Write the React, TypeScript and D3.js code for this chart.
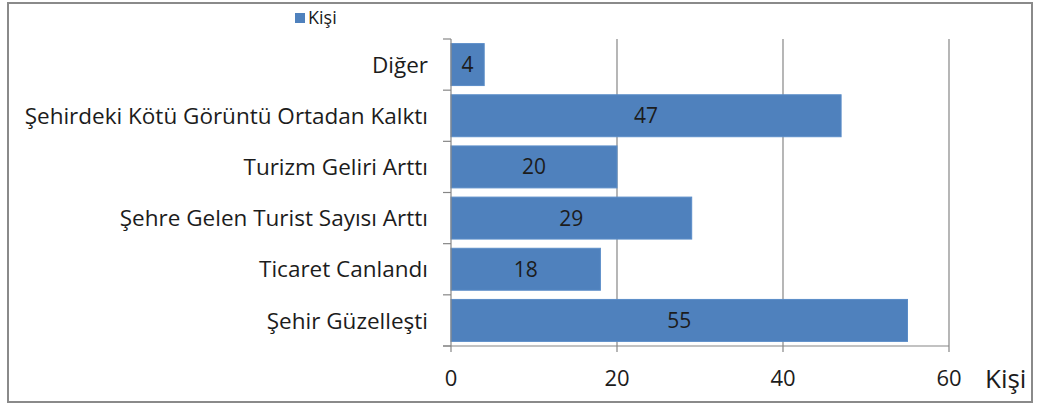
import * as d3 from 'd3';
import { useEffect, useRef } from 'react';

const categories = [
    'Diğer',
    'Şehirdeki Kötü Görüntü Ortadan Kalktı',
    'Turizm Geliri Arttı',
    'Şehre Gelen Turist Sayısı Arttı',
    'Ticaret Canlandı',
    'Şehir Güzelleşti',
];
const values = [4, 47, 20, 29, 18, 55];
const xTicks = [0, 20, 40, 60];
const seriesName = 'Kişi';

const WIDTH = 1038;
const HEIGHT = 406;
const FONT = "'Open Sans', 'Noto Sans', sans-serif";
const TEXT = '#1c1c1c';

function App() {
    const svgRef = useRef<SVGSVGElement>(null);

    useEffect(() => {
        if (!svgRef.current) return;
        const svg = d3.select(svgRef.current);
        svg.selectAll('*').remove();

        // outer frame
        svg.append('rect')
            .attr('x', 8).attr('y', 3)
            .attr('width', 1024).attr('height', 399)
            .attr('fill', '#fff')
            .attr('stroke', '#8a8a8a')
            .attr('stroke-width', 2);

        const top = 39;
        const bottom = 346;
        const x = d3.scaleLinear().domain([0, 60]).range([451, 949]);
        const y = d3.scaleBand<string>()
            .domain(categories)
            .range([top, bottom])
            .paddingInner(0.18)
            .paddingOuter(0.09);

        // gridlines
        svg.append('g')
            .selectAll('line')
            .data(xTicks.filter((t) => t > 0))
            .join('line')
            .attr('x1', (d) => x(d)).attr('x2', (d) => x(d))
            .attr('y1', top).attr('y2', bottom)
            .attr('stroke', '#868686')
            .attr('stroke-width', 1.2);

        // bars
        svg.append('g')
            .selectAll('rect')
            .data(values)
            .join('rect')
            .attr('x', x(0))
            .attr('y', (_, i) => y(categories[i])!)
            .attr('width', (d) => x(d) - x(0))
            .attr('height', y.bandwidth())
            .attr('fill', '#4f81bd')
            .attr('stroke', '#5b8dc8')
            .attr('stroke-width', 1);

        // value labels
        svg.append('g')
            .selectAll('text')
            .data(values)
            .join('text')
            .attr('x', (d) => (x(d) + x(0)) / 2)
            .attr('y', (_, i) => y(categories[i])! + y.bandwidth() / 2)
            .attr('dy', '0.36em')
            .attr('text-anchor', 'middle')
            .attr('font-family', FONT)
            .attr('font-size', 21)
            .attr('fill', TEXT)
            .text((d) => d);

        // y axis line + ticks between categories
        const yAxis = svg.append('g').attr('stroke', '#868686').attr('stroke-width', 1.2);
        yAxis.append('line')
            .attr('x1', x(0)).attr('x2', x(0))
            .attr('y1', top).attr('y2', bottom);
        const bounds = d3.range(categories.length + 1).map((i) => top + i * ((bottom - top) / categories.length));
        yAxis.selectAll('line.tick')
            .data(bounds)
            .join('line')
            .attr('class', 'tick')
            .attr('x1', x(0) - 8).attr('x2', x(0))
            .attr('y1', (d) => d).attr('y2', (d) => d);

        // x axis line + ticks
        const xAxis = svg.append('g').attr('stroke', '#868686').attr('stroke-width', 1.2);
        xAxis.append('line')
            .attr('x1', x(0) - 8).attr('x2', x(60))
            .attr('y1', bottom).attr('y2', bottom);
        xAxis.selectAll('line.tick')
            .data(xTicks)
            .join('line')
            .attr('class', 'tick')
            .attr('x1', (d) => x(d)).attr('x2', (d) => x(d))
            .attr('y1', bottom).attr('y2', bottom + 6);

        // x tick labels
        svg.append('g')
            .selectAll('text')
            .data(xTicks)
            .join('text')
            .attr('x', (d) => x(d))
            .attr('y', 378)
            .attr('dy', '0.36em')
            .attr('text-anchor', 'middle')
            .attr('font-family', FONT)
            .attr('font-size', 22)
            .attr('fill', TEXT)
            .text((d) => d);

        // category labels
        svg.append('g')
            .selectAll('text')
            .data(categories)
            .join('text')
            .attr('x', 428)
            .attr('y', (d) => y(d)! + y.bandwidth() / 2)
            .attr('dy', '0.36em')
            .attr('text-anchor', 'end')
            .attr('font-family', FONT)
            .attr('font-size', 22.5)
            .attr('fill', TEXT)
            .text((d) => d);

        // axis title
        svg.append('text')
            .attr('x', 985)
            .attr('y', 379)
            .attr('dy', '0.36em')
            .attr('font-family', FONT)
            .attr('font-size', 26)
            .attr('fill', TEXT)
            .text(seriesName);

        // legend
        svg.append('rect')
            .attr('x', 295).attr('y', 13)
            .attr('width', 10).attr('height', 10)
            .attr('fill', '#4f81bd');
        svg.append('text')
            .attr('x', 308)
            .attr('y', 18)
            .attr('dy', '0.36em')
            .attr('font-family', FONT)
            .attr('font-size', 18)
            .attr('fill', TEXT)
            .text(seriesName);
    }, []);

    return (
        <svg
            ref={svgRef}
            width={WIDTH}
            height={HEIGHT}
            style={{ position: 'absolute', left: 0, top: 0 }}
        />
    );
}

export default App;
